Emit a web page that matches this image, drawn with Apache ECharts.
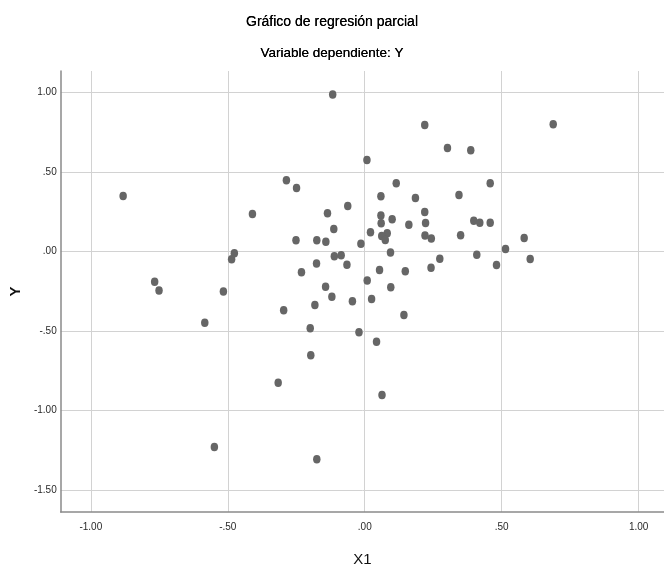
<!DOCTYPE html>
<html>
<head>
<meta charset="utf-8">
<script src="https://cdn.jsdelivr.net/npm/echarts@6/dist/echarts.min.js"></script>
<style>
html,body{margin:0;padding:0;background:#fff;}
#chart{width:664px;height:574px;}
</style>
</head>
<body>
<div id="chart"></div>
<script>
var titleText = 'Gráfico de regresión parcial';
var subtitleText = 'Variable dependiente: Y';
var xName = 'X1';
var yName = 'Y';
var xTicks = [-1, -0.5, 0, 0.5, 1];
var yTicks = [-1.5, -1, -0.5, 0, 0.5, 1];

var xValues = [
  -0.882, -0.410, -0.476, -0.486, -0.767, -0.751, -0.516, -0.584, -0.549, -0.117,
   0.219,  0.302,  0.008, -0.286, -0.249,  0.115,  0.059,  0.185,  0.344, -0.062,
  -0.136,  0.059,  0.219,  0.100,  0.060,  0.161,  0.222, -0.113,  0.021,  0.082,
   0.062,  0.075,  0.220,  0.243,  0.350, -0.251, -0.175, -0.142, -0.014,  0.094,
  -0.111, -0.086,  0.274, -0.176, -0.065,  0.242, -0.231,  0.054,  0.148,  0.009,
  -0.143,  0.095,  0.688,  0.387,  0.458,  0.398,  0.420,  0.458,  0.582,  0.514,
   0.409,  0.604,  0.481, -0.120, -0.182, -0.045,  0.025, -0.296,  0.143, -0.199,
  -0.021,  0.043, -0.197, -0.316,  0.063, -0.175
];
var yValues = [
   0.350,  0.237, -0.010, -0.048, -0.189, -0.244, -0.250, -0.447, -1.228,  0.988,
   0.797,  0.652,  0.577,  0.449,  0.401,  0.430,  0.348,  0.338,  0.357,  0.287,
   0.241,  0.227,  0.250,  0.204,  0.179,  0.170,  0.180,  0.143,  0.122,  0.115,
   0.098,  0.074,  0.101,  0.082,  0.103,  0.072,  0.072,  0.063,  0.050, -0.006,
  -0.029, -0.023, -0.044, -0.075, -0.082, -0.101, -0.130, -0.115, -0.123, -0.182,
  -0.220, -0.224,  0.801,  0.638,  0.430,  0.195,  0.182,  0.182,  0.086,  0.017,
  -0.019, -0.046, -0.084, -0.283, -0.335, -0.312, -0.297, -0.369, -0.398, -0.482,
  -0.507, -0.566, -0.652, -0.824, -0.901, -1.306
];

function fmt(v) {
  var s = Number(v).toFixed(2);
  return s.replace(/^(-?)0\./, '$1.');
}

var points = xValues.map(function (x, i) { return [x, yValues[i]]; });

var chart = echarts.init(document.getElementById('chart'), null, {renderer: 'canvas'});
chart.setOption({
  animation: false,
  backgroundColor: '#ffffff',
  textStyle: {fontFamily: 'Liberation Sans, Arial, sans-serif'},
  title: [
    {text: titleText, left: 'center', top: 10,
     textStyle: {fontSize: 14, fontWeight: 'normal', color: '#000', fontFamily: 'Liberation Sans', textShadowColor: '#000', textShadowBlur: 0.6}},
    {text: subtitleText, left: 'center', top: 41,
     textStyle: {fontSize: 13.5, fontWeight: 'normal', color: '#000', fontFamily: 'Liberation Sans', textShadowColor: '#000', textShadowBlur: 0.6}}
  ],
  grid: {left: 56, right: 0, top: 71, bottom: 62, containLabel: false},
  xAxis: {
    type: 'value',
    min: -1.11, max: 1.0925,
    name: xName, nameLocation: 'middle', nameGap: 40,
    nameTextStyle: {fontSize: 15, color: '#111', fontFamily: 'Liberation Sans'},
    axisLine: {show: true, onZero: false, lineStyle: {color: '#8a8a8a', width: 1.5}},
    axisTick: {show: false, customValues: xTicks},
    axisLabel: {customValues: xTicks, formatter: fmt, fontSize: 10, color: '#2a2a2a', margin: 10},
    splitLine: {show: true, lineStyle: {color: '#d2d2d2', width: 1}}
  },
  yAxis: {
    type: 'value',
    min: -1.637, max: 1.136,
    name: yName, nameLocation: 'middle', nameGap: 37, nameRotate: 90,
    nameTextStyle: {fontSize: 15, fontWeight: 'bold', color: '#111', fontFamily: 'Liberation Sans'},
    axisLine: {show: true, onZero: false, lineStyle: {color: '#8a8a8a', width: 1.5}},
    axisTick: {show: false, customValues: yTicks},
    axisLabel: {customValues: yTicks, formatter: fmt, fontSize: 10, color: '#2a2a2a', margin: 4},
    splitLine: {show: true, lineStyle: {color: '#d2d2d2', width: 1}}
  },
  series: [{
    type: 'scatter',
    data: points,
    symbol: 'circle',
    symbolSize: [7.5, 8.5],
    itemStyle: {color: '#666666', opacity: 1}
  }]
});
</script>
</body>
</html>
